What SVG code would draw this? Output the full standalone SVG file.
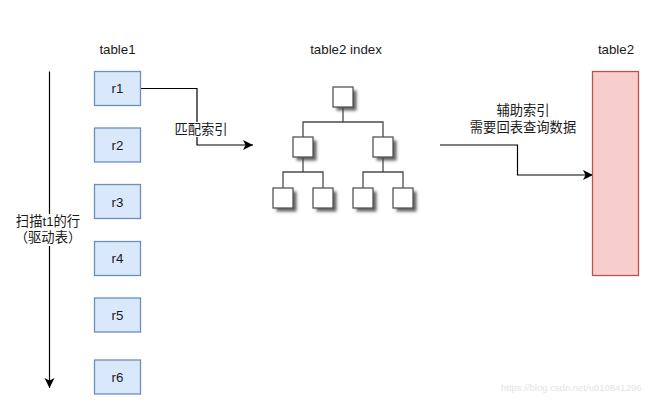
<svg xmlns="http://www.w3.org/2000/svg" width="659" height="412" viewBox="0 0 659 412">
<style>
text{font-family:"Liberation Sans","Noto Sans CJK SC",sans-serif;font-size:13.300px;fill:#1a1a1a;text-anchor:middle}
.row{fill:#dae8fc;stroke:#6c8ebf;stroke-width:1.300}
.conn{fill:none;stroke:#000;stroke-width:1.200}
.tl{fill:none;stroke:#4a4a4a;stroke-width:1.300}
.tb{fill:#fff;stroke:#555;stroke-width:1.300}
.sh{fill:#444;opacity:.85;filter:url(#blur)}
.wm{font-size:9.500px;fill:#e4e4e4;text-anchor:start}
.lb{fill:#fff;stroke:none}
</style>
<defs>
<filter id="blur" x="-30%" y="-30%" width="160%" height="160%"><feGaussianBlur stdDeviation="1.5"/></filter>
<marker id="arr" markerUnits="userSpaceOnUse" markerWidth="12" markerHeight="12" refX="10.500" refY="6" orient="auto"><path d="M0.500 1 L10.500 6 L0.500 11 L3 6 Z" fill="#000"/></marker>
<symbol id="tbox" overflow="visible"><rect class="sh" x="3.500" y="3.500" width="20" height="20"/><rect class="tb" width="20" height="20"/></symbol>
</defs>
<rect width="659" height="412" fill="#fff"/>
<g id="connectors">
<path class="conn" d="M49.500 71.500V388" marker-end="url(#arr)"/>
<path class="conn" d="M140.500 88.500H197V145H253" marker-end="url(#arr)"/>
<path class="conn" d="M440 145H517.500V175H593" marker-end="url(#arr)"/>
<rect class="lb" x="15" y="214" width="68" height="32"/>
<rect class="lb" x="174" y="122" width="54" height="15"/>
</g>
<g id="label-scan"><text x="48" y="226">扫描t1的行</text><text x="48" y="242">（驱动表）</text></g>
<g id="label-match"><text x="201" y="134">匹配索引</text></g>
<g id="label-lookup"><text x="523" y="115">辅助索引</text><text x="523" y="132">需要回表查询数据</text></g>
<g id="table1-title"><text x="117.500" y="54">table1</text></g>
<g id="index-title"><text x="346" y="54">table2 index</text></g>
<g id="table2-title"><text x="616" y="54">table2</text></g>
<g id="r1"><rect class="row" x="94.500" y="71.500" width="46" height="34"/><text x="117.500" y="93">r1</text></g>
<g id="r2"><rect class="row" x="94.500" y="128" width="46" height="34"/><text x="117.500" y="150">r2</text></g>
<g id="r3"><rect class="row" x="94.500" y="184.500" width="46" height="34"/><text x="117.500" y="207">r3</text></g>
<g id="r4"><rect class="row" x="94.500" y="241.500" width="46" height="34"/><text x="117.500" y="263">r4</text></g>
<g id="r5"><rect class="row" x="94.500" y="298" width="46" height="34"/><text x="117.500" y="320">r5</text></g>
<g id="r6"><rect class="row" x="94.500" y="360" width="46" height="34"/><text x="117.500" y="382">r6</text></g>
<g id="table2"><rect x="592.500" y="71.500" width="46" height="204" fill="#f8cecc" stroke="#b85450" stroke-width="1.300"/></g>
<g id="index-tree">
<path class="tl" d="M343 107V122M303 137V122H383V137M303 157V172M283 188V172H323V188M383 157V172M363 188V172H403V188"/>
<use href="#tbox" x="333" y="87"/>
<use href="#tbox" x="293" y="137"/>
<use href="#tbox" x="373" y="137"/>
<use href="#tbox" x="273" y="188"/>
<use href="#tbox" x="313" y="188"/>
<use href="#tbox" x="353" y="188"/>
<use href="#tbox" x="393" y="188"/>
</g>
<g id="watermark"><text class="wm" x="501" y="391">https://blog.csdn.net/u010841296</text></g>
</svg>
